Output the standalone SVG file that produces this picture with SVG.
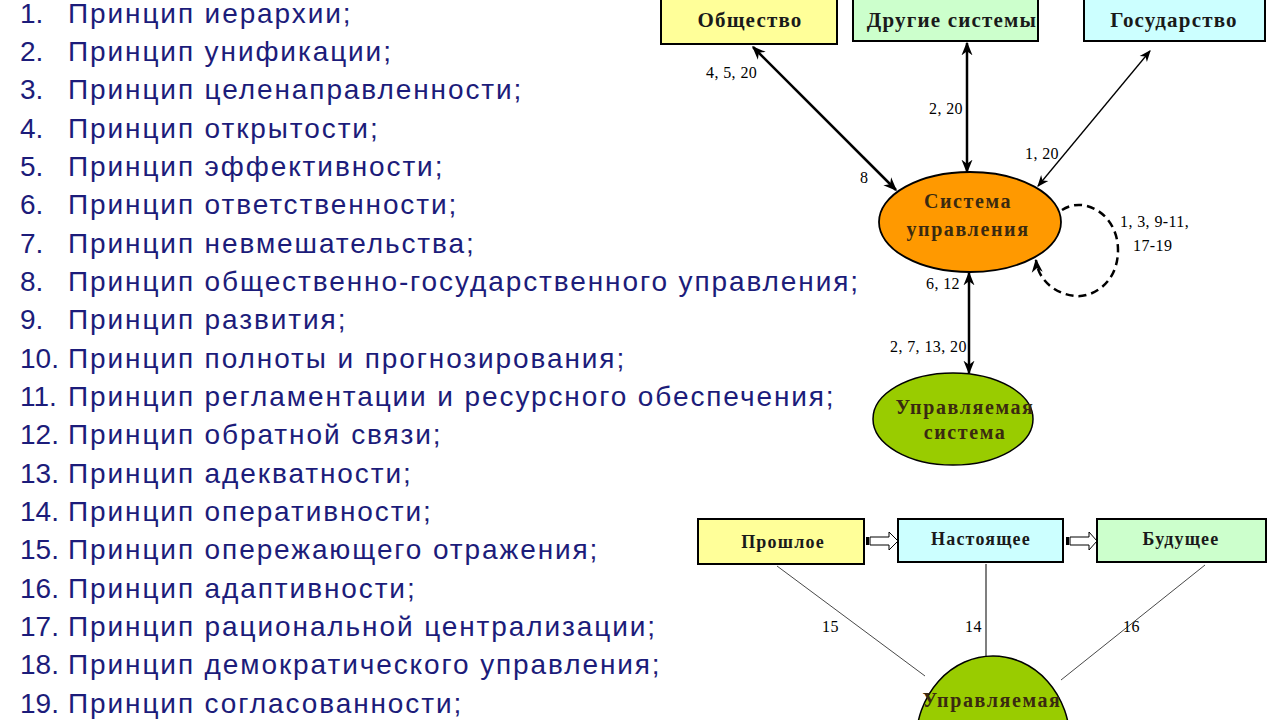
<svg xmlns="http://www.w3.org/2000/svg" width="1280" height="720" viewBox="0 0 1280 720">
<defs>
<marker id="ah" viewBox="0 0 10 10" refX="9" refY="5" markerWidth="5.5" markerHeight="5.5" orient="auto-start-reverse" markerUnits="strokeWidth">
<path d="M0,1 L10,5 L0,9 L3,5 z" fill="#000"/>
</marker>
<marker id="ahs" viewBox="0 0 10 10" refX="9" refY="5" markerWidth="9" markerHeight="9" orient="auto-start-reverse" markerUnits="strokeWidth">
<path d="M0,1 L10,5 L0,9 L3,5 z" fill="#000"/>
</marker>
<style>
.li{font-family:"Liberation Sans",Arial,sans-serif;font-size:28px;letter-spacing:1.9px;fill:#1c1c7a}
.n{letter-spacing:0}
.bx{stroke:#000;stroke-width:2}
.bt{font-family:"Liberation Serif","Times New Roman",serif;font-weight:bold;font-size:21px;letter-spacing:1.2px;fill:#1a1a1a;text-anchor:middle}
.bt2{font-family:"Liberation Serif","Times New Roman",serif;font-weight:bold;font-size:18px;letter-spacing:1.2px;fill:#1a1a1a;text-anchor:middle}
.lb{font-family:"Liberation Serif","Times New Roman",serif;font-size:16px;letter-spacing:0.4px;fill:#000}
.et{font-family:"Liberation Serif","Times New Roman",serif;font-weight:bold;font-size:20px;letter-spacing:1.6px;fill:#3a2a10;text-anchor:middle}
.con{stroke:#000;fill:none}
</style>
</defs>
<rect width="1280" height="720" fill="#fff"/>

<g id="list">
<text class="li" y="23"><tspan class="n" x="20">1.</tspan><tspan x="68">Принцип иерархии;</tspan></text>
<text class="li" y="61"><tspan class="n" x="20">2.</tspan><tspan x="68">Принцип унификации;</tspan></text>
<text class="li" y="99"><tspan class="n" x="20">3.</tspan><tspan x="68">Принцип целенаправленности;</tspan></text>
<text class="li" y="138"><tspan class="n" x="20">4.</tspan><tspan x="68">Принцип открытости;</tspan></text>
<text class="li" y="176"><tspan class="n" x="20">5.</tspan><tspan x="68">Принцип эффективности;</tspan></text>
<text class="li" y="214"><tspan class="n" x="20">6.</tspan><tspan x="68">Принцип ответственности;</tspan></text>
<text class="li" y="253"><tspan class="n" x="20">7.</tspan><tspan x="68">Принцип невмешательства;</tspan></text>
<text class="li" y="291"><tspan class="n" x="20">8.</tspan><tspan x="68">Принцип общественно-государственного управления;</tspan></text>
<text class="li" y="329"><tspan class="n" x="20">9.</tspan><tspan x="68">Принцип развития;</tspan></text>
<text class="li" y="368"><tspan class="n" x="20">10.</tspan><tspan x="68">Принцип полноты и прогнозирования;</tspan></text>
<text class="li" y="406"><tspan class="n" x="20">11.</tspan><tspan x="68">Принцип регламентации и ресурсного обеспечения;</tspan></text>
<text class="li" y="444"><tspan class="n" x="20">12.</tspan><tspan x="68">Принцип обратной связи;</tspan></text>
<text class="li" y="483"><tspan class="n" x="20">13.</tspan><tspan x="68">Принцип адекватности;</tspan></text>
<text class="li" y="521"><tspan class="n" x="20">14.</tspan><tspan x="68">Принцип оперативности;</tspan></text>
<text class="li" y="559"><tspan class="n" x="20">15.</tspan><tspan x="68">Принцип опережающего отражения;</tspan></text>
<text class="li" y="598"><tspan class="n" x="20">16.</tspan><tspan x="68">Принцип адаптивности;</tspan></text>
<text class="li" y="636"><tspan class="n" x="20">17.</tspan><tspan x="68">Принцип рациональной централизации;</tspan></text>
<text class="li" y="674"><tspan class="n" x="20">18.</tspan><tspan x="68">Принцип демократического управления;</tspan></text>
<text class="li" y="713"><tspan class="n" x="20">19.</tspan><tspan x="68">Принцип согласованности;</tspan></text>
</g>

<g id="connectors">
<line class="con" x1="753" y1="47" x2="896" y2="190" stroke-width="2.5" marker-start="url(#ah)" marker-end="url(#ah)"/>
<line class="con" x1="967" y1="43" x2="967" y2="172" stroke-width="2.5" marker-start="url(#ah)" marker-end="url(#ah)"/>
<line class="con" x1="1150" y1="51" x2="1038" y2="186" stroke-width="1.3" marker-start="url(#ahs)" marker-end="url(#ahs)"/>
<line class="con" x1="969" y1="273" x2="969" y2="373" stroke-width="2.5" marker-start="url(#ah)" marker-end="url(#ah)"/>
<path class="con" d="M1062,210 C1085,195 1118,215 1118,250 C1118,285 1090,298 1075,296 C1055,294 1038,280 1036,260" stroke-width="2.5" stroke-dasharray="8,5" marker-end="url(#ah)"/>
<line x1="777" y1="566" x2="925" y2="676" stroke="#333" stroke-width="0.9"/>
<line x1="986" y1="564" x2="986" y2="657" stroke="#555" stroke-width="1.5"/>
<line x1="1205" y1="565" x2="1061" y2="680" stroke="#333" stroke-width="0.9"/>
<g id="block1">
<polygon points="870,537 889,537 889,532 898,541 889,550 889,545 870,545" fill="#fff" stroke="#000" stroke-width="1"/>
<rect x="866" y="537" width="3" height="8" fill="#000"/>
</g>
<g id="block2">
<polygon points="1070,537 1089,537 1089,532 1097,541 1089,550 1089,545 1070,545" fill="#fff" stroke="#000" stroke-width="1"/>
<rect x="1066" y="537" width="3" height="8" fill="#000"/>
</g>
<text class="lb" x="706" y="78">4, 5, 20</text>
<text class="lb" x="860" y="183">8</text>
<text class="lb" x="929" y="114">2, 20</text>
<text class="lb" x="1025" y="159">1, 20</text>
<text class="lb" x="1120" y="227" font-size="17" letter-spacing="1">1, 3, 9-11,</text>
<text class="lb" x="1133" y="251" font-size="17" letter-spacing="1">17-19</text>
<text class="lb" x="926" y="289">6, 12</text>
<text class="lb" x="890" y="352">2, 7, 13, 20</text>
<text class="lb" x="822" y="632">15</text>
<text class="lb" x="965" y="632">14</text>
<text class="lb" x="1123" y="632">16</text>
</g>

<g id="obshchestvo">
<rect class="bx" x="661" y="-5" width="176" height="49" fill="#ffff99"/>
<text class="bt" x="750" y="27">Общество</text>
</g>
<g id="drugie">
<rect class="bx" x="853" y="-5" width="185" height="46" fill="#ccffcc"/>
<text class="bt" x="952" y="27" letter-spacing="0.5">Другие системы</text>
</g>
<g id="gosudarstvo">
<rect class="bx" x="1084" y="-5" width="181" height="46" fill="#ccffff"/>
<text class="bt" x="1174" y="27">Государство</text>
</g>
<g id="sistema">
<ellipse cx="970" cy="222" rx="91" ry="50" fill="#ff9900" stroke="#000" stroke-width="1.8"/>
<text class="et" x="968" y="208">Система</text>
<text class="et" x="968" y="236">управления</text>
</g>
<g id="upravl1">
<ellipse cx="953" cy="419" rx="80" ry="46" fill="#99cc00" stroke="#000" stroke-width="1.5"/>
<text class="et" x="965" y="414" fill="#1a2a0a" letter-spacing="1.2">Управляемая</text>
<text class="et" x="965" y="439" fill="#1a2a0a">система</text>
</g>
<g id="proshloe">
<rect class="bx" x="698" y="519" width="166" height="45" fill="#ffff99" stroke-width="1.5"/>
<text class="bt2" x="783" y="548">Прошлое</text>
</g>
<g id="nastoyashchee">
<rect class="bx" x="898" y="519" width="165" height="43" fill="#ccffff" stroke-width="1.5"/>
<text class="bt2" x="981" y="545">Настоящее</text>
</g>
<g id="budushchee">
<rect class="bx" x="1097" y="519" width="169" height="43" fill="#ccffcc" stroke-width="1.5"/>
<text class="bt2" x="1181" y="545">Будущее</text>
</g>
<g id="upravl2">
<ellipse cx="993" cy="742" rx="77" ry="86" fill="#99cc00" stroke="#000" stroke-width="1.5"/>
<text class="et" x="992" y="707" fill="#1a2a0a">Управляемая</text>
</g>
</svg>
